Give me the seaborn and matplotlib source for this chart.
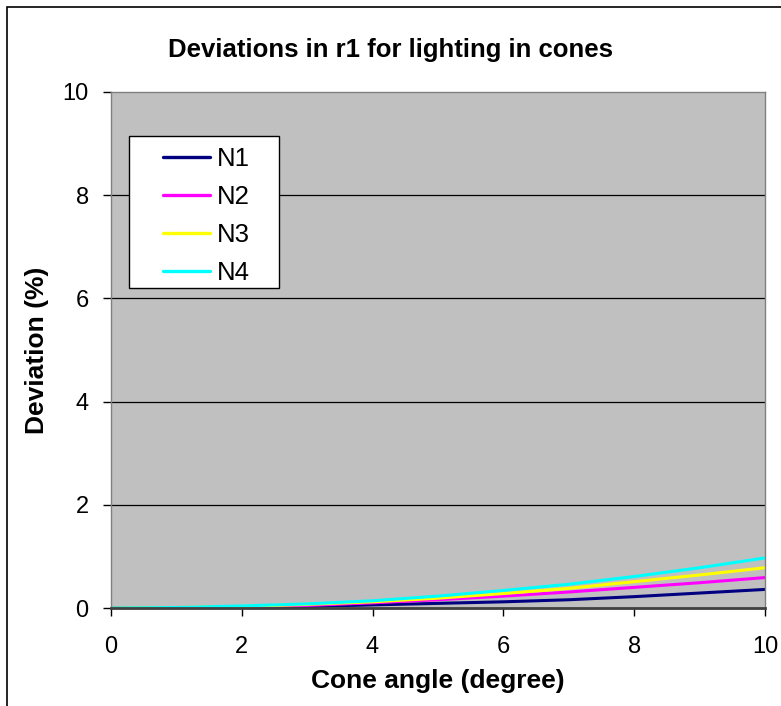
import pandas as pd
import matplotlib
matplotlib.use("Agg")
import matplotlib.pyplot as plt
import seaborn as sns

# --- DATA ---
cone_angle = [0, 1, 2, 3, 4, 5, 6, 7, 8, 9, 10]
n1 = [0, 0.00, 0.01, 0.03, 0.06, 0.09, 0.12, 0.16, 0.22, 0.29, 0.36]
n2 = [0, 0.01, 0.02, 0.05, 0.10, 0.16, 0.23, 0.31, 0.40, 0.49, 0.59]
n3 = [0, 0.01, 0.03, 0.07, 0.12, 0.19, 0.28, 0.38, 0.51, 0.64, 0.78]
n4 = [0, 0.01, 0.04, 0.08, 0.14, 0.23, 0.34, 0.46, 0.61, 0.78, 0.97]
series_names = ["N1", "N2", "N3", "N4"]
series_colors = ["#000080", "#FF00FF", "#FFFF00", "#00FFFF"]

df = pd.concat([
    pd.DataFrame({"angle": cone_angle, "dev": vals, "series": name})
    for name, vals in zip(series_names, [n1, n2, n3, n4])
], ignore_index=True)

sns.set_style("white")
plt.rcParams["font.family"] = ["Liberation Sans", "DejaVu Sans"]
plt.rcParams["text.color"] = "black"
plt.rcParams["axes.labelcolor"] = "black"
plt.rcParams["xtick.color"] = "black"
plt.rcParams["ytick.color"] = "black"

fig = plt.figure(figsize=(7.81, 7.06), dpi=100)
ax = fig.add_axes([0.142, 0.1388, 0.8375, 0.7309])

sns.lineplot(data=df, x="angle", y="dev", hue="series",
             palette=dict(zip(series_names, series_colors)),
             linewidth=2.2, ax=ax, legend=True)

ax.set_facecolor("#C0C0C0")
ax.set_xlim(0, 10)
ax.set_ylim(0, 10)
ax.set_xticks([0, 2, 4, 6, 8, 10])
ax.set_yticks([0, 2, 4, 6, 8, 10])
for y in [2, 4, 6, 8]:
    ax.axhline(y, color="black", linewidth=0.9, zorder=0.5)
ax.tick_params(axis="both", labelsize=17, direction="out", length=6,
               width=1, color="black", left=True, bottom=True)
ax.tick_params(axis="x", pad=14)
ax.tick_params(axis="y", pad=10)
for side in ["left", "top", "right"]:
    ax.spines[side].set_color("#808080")
    ax.spines[side].set_linewidth(1)
ax.spines["bottom"].set_color("#404040")
ax.spines["bottom"].set_linewidth(2)

ax.set_xlabel("Cone angle (degree)", fontsize=19, fontweight="bold", labelpad=8)
ax.set_ylabel("Deviation (%)", fontsize=19, fontweight="bold", labelpad=10)
fig.text(0.5, 0.929, "Deviations in r1 for lighting in cones",
         ha="center", va="center", fontsize=18.5, fontweight="bold")

# legend box drawn separately so the padding matches the reference
box = plt.Rectangle((0.0275, 0.620), 0.2295, 0.295, transform=ax.transAxes,
                    facecolor="white", edgecolor="black", linewidth=1,
                    zorder=4)
ax.add_patch(box)
leg = ax.legend(loc="upper left", bbox_to_anchor=(0.0795, 0.893),
                fontsize=18.5, frameon=False, handlelength=1.83,
                handletextpad=0.27, borderpad=0, labelspacing=0.54,
                borderaxespad=0)
leg.set_zorder(5)
for h in leg.legend_handles:
    h.set_linewidth(2.4)

# outer chart border (cut off at right and bottom in the reference)
border = plt.Rectangle((7 / 781, -0.1), 1.2, 1 - 7 / 706 + 0.1,
                       transform=fig.transFigure, fill=False,
                       edgecolor="black", linewidth=1.2)
fig.patches.append(border)

fig.savefig("out.png", dpi=100)
